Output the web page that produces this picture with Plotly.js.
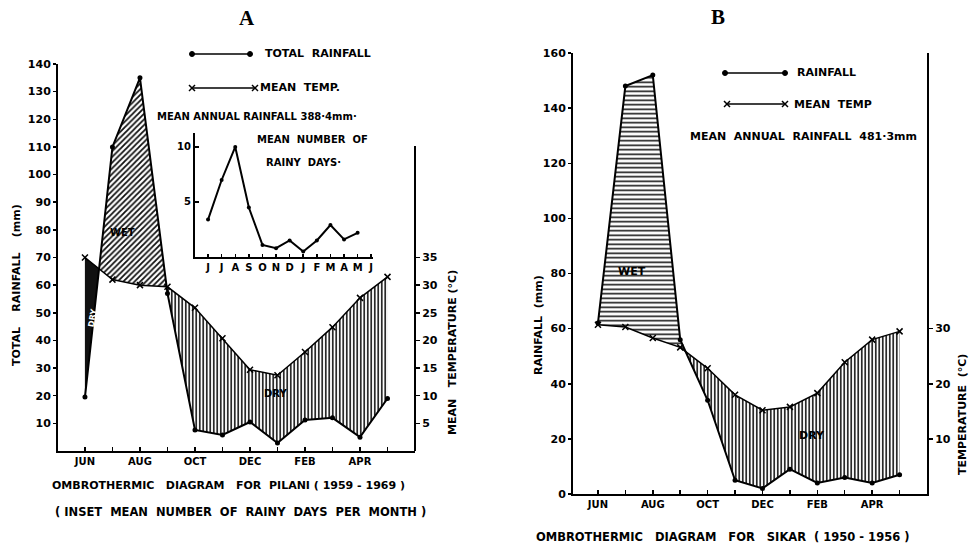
<!DOCTYPE html>
<html>
<head>
<meta charset="utf-8">
<script src="https://cdn.plot.ly/plotly-3.0.1.min.js"></script>
<style>html,body{margin:0;padding:0;background:#fff;}#chart{width:974px;height:544px;}</style>
</head>
<body>
<div id="chart"></div>
<script>
// ---------------- DATA ----------------
const monthIndex = [0,1,2,3,4,5,6,7,8,9,10,11];
const monthTickText = ['JUN','','AUG','','OCT','','DEC','','FEB','','APR',''];
// Pilani (A): total rainfall (mm) and mean temperature (°C)
const pilaniRain = [19.5,110,135,57,7.6,5.8,10.5,2.9,11.2,12,5,19];
const pilaniTemp = [35,31,30,29.7,25.9,20.4,14.7,13.7,17.9,22.4,27.7,31.5];
// Sikar (B): rainfall (mm) and mean temperature (°C)
const sikarRain = [62,148,152,56,34,5,2,9,4,6,4,7];
const sikarTemp = [30.7,30.3,28.3,26.6,22.8,18,15.2,15.8,18.3,23.9,28,29.5];
// Inset: mean number of rainy days per month (Pilani)
const insetIndex = [0,1,2,3,4,5,6,7,8,9,10,11,12];
const insetTickText = ['J','J','A','S','O','N','D','J','F','M','A','M','J'];
const rainyDays = [3.4,7,10,4.5,1.1,0.8,1.5,0.5,1.5,2.9,1.6,2.2];
const pilaniRainTicks = [10,20,30,40,50,60,70,80,90,100,110,120,130,140];
const pilaniTempTicks = [5,10,15,20,25,30,35];
const sikarRainTicks = [0,20,40,60,80,100,120,140,160];
const sikarTempTicks = [10,20,30];
const insetTicks = [5,10];

// ---------------- HELPERS ----------------
const W = 974, H = 544;
const px = x => x / W;
const py = y => 1 - y / H;
const NB = s => s.replace(/ /g, '\u00a0');

// build bands between rainfall and scaled temperature (2 mm per °C)
function bands(r, tC) {
  const t = tC.map(v => v * 2);
  const X = [], R = [], T = [];
  for (let i = 0; i < r.length; i++) {
    X.push(monthIndex[i]); R.push(r[i]); T.push(t[i]);
    if (i < r.length - 1) {
      const d0 = r[i] - t[i], d1 = r[i + 1] - t[i + 1];
      if (d0 * d1 < 0) {
        const f = d0 / (d0 - d1);
        const v = r[i] + f * (r[i + 1] - r[i]);
        X.push(monthIndex[i] + f); R.push(v); T.push(v);
      }
    }
  }
  const hi = R.map((v, k) => Math.max(v, T[k]));
  const lo = R.map((v, k) => Math.min(v, T[k]));
  return {X, R, T, hi, lo};
}

function bandTraces(b, xa, ya, wetShape, wetSize, wetSol, dryFirstSolid) {
  const tr = [];
  const base = {type:'scatter', mode:'lines', xaxis:xa, yaxis:ya, hoverinfo:'skip', line:{width:0}};
  tr.push(Object.assign({}, base, {x:b.X, y:b.T}));
  tr.push(Object.assign({}, base, {x:b.X, y:b.hi, fill:'tonexty', fillcolor:'rgba(0,0,0,0)',
    fillpattern:{shape:wetShape, size:wetSize, solidity:wetSol, fgcolor:'#111', bgcolor:'rgba(255,255,255,0)'}}));
  tr.push(Object.assign({}, base, {x:b.X, y:b.T}));
  tr.push(Object.assign({}, base, {x:b.X, y:b.lo, fill:'tonexty', fillcolor:'rgba(0,0,0,0)',
    fillpattern:{shape:'|', size:3.5, solidity:0.45, fgcolor:'#111', bgcolor:'rgba(255,255,255,0)'}}));
  if (dryFirstSolid) {
    // first dry wedge (before first crossing) drawn solid
    let k = 1; while (k < b.X.length && b.R[k] !== b.T[k]) k++;
    const xs = b.X.slice(0, k + 1), ts = b.T.slice(0, k + 1), ls = b.lo.slice(0, k + 1);
    tr.push(Object.assign({}, base, {x:xs, y:ts}));
    tr.push(Object.assign({}, base, {x:xs, y:ls, fill:'tonexty', fillcolor:'#111'}));
  }
  return tr;
}

const bA = bands(pilaniRain, pilaniTemp);
const bB = bands(sikarRain, sikarTemp);

const traces = [];
traces.push(...bandTraces(bA, 'x', 'y', '/', 4, 0.45, true));
traces.push(...bandTraces(bB, 'x2', 'y2', '-', 4.5, 0.35, false));

// lines
traces.push({type:'scatter', mode:'lines+markers', x:monthIndex, y:pilaniRain, xaxis:'x', yaxis:'y',
  line:{color:'#000', width:2}, marker:{symbol:'circle', size:5, color:'#000'}});
traces.push({type:'scatter', mode:'lines+markers', x:monthIndex, y:pilaniTemp, xaxis:'x', yaxis:'y3',
  line:{color:'#000', width:1.5}, marker:{symbol:'x-thin', size:6, line:{color:'#000', width:1.5}}});
traces.push({type:'scatter', mode:'lines+markers', x:monthIndex, y:sikarRain, xaxis:'x2', yaxis:'y2',
  line:{color:'#000', width:2}, marker:{symbol:'circle', size:5, color:'#000'}});
traces.push({type:'scatter', mode:'lines+markers', x:monthIndex, y:sikarTemp, xaxis:'x2', yaxis:'y4',
  line:{color:'#000', width:1.5}, marker:{symbol:'x-thin', size:6, line:{color:'#000', width:1.5}}});
traces.push({type:'scatter', mode:'lines+markers', x:insetIndex.slice(0, rainyDays.length), y:rainyDays, xaxis:'x3', yaxis:'y5',
  line:{color:'#000', width:2}, marker:{symbol:'circle', size:4, color:'#000'}});

const tf = {family:'DejaVu Sans', size:10, color:'#000', weight:700};
const axBase = {showgrid:false, zeroline:false, showline:true, linecolor:'#000', linewidth:2,
  ticks:'inside', ticklen:4, tickwidth:1.5, tickcolor:'#000', tickfont:tf, fixedrange:true};

const layout = {
  width:W, height:H, margin:{l:0, r:0, t:0, b:0}, paper_bgcolor:'#fff', plot_bgcolor:'rgba(0,0,0,0)',
  showlegend:false, font:{family:'DejaVu Sans', color:'#000', weight:700},
  xaxis:Object.assign({}, axBase, {domain:[px(58), px(415)], range:[-0.98, 12], anchor:'y',
    tickmode:'array', tickvals:monthIndex, ticktext:monthTickText, tickfont:Object.assign({}, tf, {size:10})}),
  yaxis:Object.assign({}, axBase, {domain:[py(451), py(64)], range:[0, 140], anchor:'x',
    tickmode:'array', tickvals:pilaniRainTicks, ticks:'outside', ticklen:3, tickfont:Object.assign({}, tf, {size:11})}),
  yaxis3:Object.assign({}, axBase, {overlaying:'y', side:'right', anchor:'x', range:[0, 70], showline:false,
    tickmode:'array', tickvals:pilaniTempTicks, ticks:'outside', ticklen:4, tickfont:Object.assign({}, tf, {size:11})}),
  xaxis2:Object.assign({}, axBase, {domain:[px(573), px(927)], range:[-0.91, 12], anchor:'y2',
    tickmode:'array', tickvals:monthIndex, ticktext:monthTickText, tickfont:Object.assign({}, tf, {size:10})}),
  yaxis2:Object.assign({}, axBase, {domain:[py(494), py(53)], range:[0, 160], anchor:'x2',
    tickmode:'array', tickvals:sikarRainTicks, ticks:'outside', ticklen:3, tickfont:Object.assign({}, tf, {size:11})}),
  yaxis4:Object.assign({}, axBase, {overlaying:'y2', side:'right', anchor:'x2', range:[0, 80],
    tickmode:'array', tickvals:sikarTempTicks, ticks:'outside', ticklen:4, tickfont:Object.assign({}, tf, {size:11})}),
  xaxis3:Object.assign({}, axBase, {domain:[px(195), px(373)], range:[-0.96, 12.13], anchor:'y5',
    tickmode:'array', tickvals:insetIndex, ticktext:insetTickText, ticklen:3, tickfont:Object.assign({}, tf, {size:10})}),
  yaxis5:Object.assign({}, axBase, {domain:[py(257), py(133)], range:[0, 11.27], anchor:'x3',
    tickmode:'array', tickvals:insetTicks, ticks:'inside', ticklen:4, tickfont:Object.assign({}, tf, {size:10})}),
  shapes:[], annotations:[]
};

// right axis line of chart A (partial height)
layout.shapes.push({type:'line', xref:'x domain', yref:'paper', x0:1, x1:1, y0:py(451), y1:py(146), line:{color:'#000', width:2}});

// legend glyphs
function legendLine(x0, x1, y, sym) {
  layout.shapes.push({type:'line', xref:'paper', yref:'paper', x0:px(x0), x1:px(x1), y0:py(y), y1:py(y), line:{color:'#000', width:1.5}});
  [x0, x1].forEach(x => {
    if (sym === 'dot') {
      layout.shapes.push({type:'circle', xref:'paper', yref:'paper', x0:px(x-2.5), x1:px(x+2.5), y0:py(y+2.5), y1:py(y-2.5), fillcolor:'#000', line:{color:'#000', width:1}});
    } else {
      layout.shapes.push({type:'line', xref:'paper', yref:'paper', x0:px(x-3), x1:px(x+3), y0:py(y-3), y1:py(y+3), line:{color:'#000', width:1.5}});
      layout.shapes.push({type:'line', xref:'paper', yref:'paper', x0:px(x-3), x1:px(x+3), y0:py(y+3), y1:py(y-3), line:{color:'#000', width:1.5}});
    }
  });
}
legendLine(192, 250, 54, 'dot');
legendLine(192, 255, 88, 'x');
legendLine(725, 785, 73, 'dot');
legendLine(727, 785, 104, 'x');

function ann(text, x, y, opts) {
  layout.annotations.push(Object.assign({text:NB(text), xref:'paper', yref:'paper', x:px(x), y:py(y),
    showarrow:false, xanchor:'center', yanchor:'middle',
    font:{family:'DejaVu Sans', size:10, color:'#000', weight:700}}, opts || {}));
}
const f = s => ({family:'DejaVu Sans', size:s, color:'#000', weight:700});
const serif = {family:'Liberation Serif', size:21, color:'#000', weight:700};
ann('A', 247, 18, {font:serif});
ann('B', 718, 17, {font:serif});

ann('TOTAL  RAINFALL', 263, 54, {xanchor:'left', font:f(11)});
ann('MEAN  TEMP.', 258, 88, {xanchor:'left', font:f(11)});
ann('MEAN ANNUAL RAINFALL 388·4mm·', 257, 116);
ann('MEAN  NUMBER  OF', 312, 139);
ann('RAINY  DAYS·', 303, 163);
ann('WET', 122, 232);
ann('DRY', 275, 393);
ann('DRY', 92, 318, {textangle:-80, font:{family:'DejaVu Sans', size:8, color:'#fff', weight:700}});
ann('TOTAL    RAINFALL    (mm)', 16, 285, {textangle:-90, font:f(11)});
ann('MEAN   TEMPERATURE (°C)', 452, 353, {textangle:-90, font:f(11)});
ann('OMBROTHERMIC   DIAGRAM   FOR  PILANI ( 1959 - 1969 )', 228, 485, {font:f(11)});
ann('( INSET  MEAN  NUMBER  OF  RAINY  DAYS  PER  MONTH )', 240, 512, {font:f(11.5)});

ann('RAINFALL', 795, 73, {xanchor:'left', font:f(11)});
ann('MEAN  TEMP', 792, 104, {xanchor:'left', font:f(11)});
ann('MEAN  ANNUAL  RAINFALL  481·3mm', 803, 136, {font:f(11)});
ann('WET', 632, 271, {font:f(11)});
ann('DRY', 812, 435, {font:f(11)});
ann('RAINFALL  (mm)', 538, 325, {textangle:-90, font:f(11)});
ann('TEMPERATURE  (°C)', 962, 415, {textangle:-90, font:f(11)});
ann('OMBROTHERMIC   DIAGRAM   FOR   SIKAR  ( 1950 - 1956 )', 722, 537, {font:f(11.5)});

Plotly.newPlot('chart', traces, layout, {staticPlot:true, displayModeBar:false});
</script>
</body>
</html>
